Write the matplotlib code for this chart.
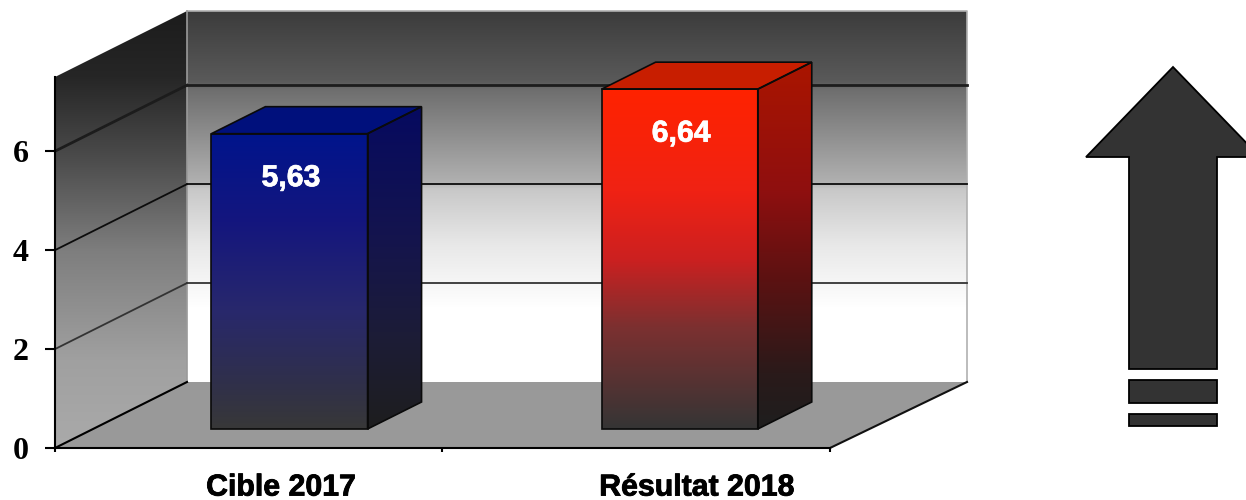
import matplotlib
matplotlib.use('Agg')
import matplotlib.pyplot as plt
import matplotlib.patheffects as pe
from matplotlib.colors import LinearSegmentedColormap
from matplotlib.patches import Polygon
import numpy as np

##### Dados #####
categories = ['Cible 2017', 'Résultat 2018']
bar_heights = [5.97, 6.87]
value_labels = ['5,63', '6,64']
y_ticks = [0, 2, 4, 6]
y_top = 7.5

##### Geometria (pixels da imagem) #####
W, H = 1246, 500
X0, X1 = 55, 830
Y0, Y_TOP = 448, 77
CAT_PX = (X1 - X0) / 2
UNIT_PX = (Y0 - Y_TOP) / y_top
DX = 132 / CAT_PX      # profundidade em x
DY = 66 / UNIT_PX      # profundidade em y
RIGHT_BACK = 2 + 5 / CAT_PX

bar_centers = [0.507, 1.514]
bar_width = 0.403
bar_d0, bar_d1 = 0.288, 0.697
label_x = [0.583, 1.656]

wall_stops = [(0, '#3c3c3c'), (0.19, '#5a5a5a'), (0.21, '#6e6e6e'), (0.46, '#b0b0b0'),
              (0.48, '#c8c8c8'), (0.63, '#e8e8e8'), (0.735, '#f6f6f6'), (0.80, '#ffffff'), (1, '#ffffff')]
side_stops = [(0, '#1c1c1c'), (0.15, '#262626'), (0.33, '#4a4a4a'), (0.55, '#7e7e7e'), (0.8, '#a0a0a0'), (1, '#aaaaaa')]
blue_front = [(0, '#00148c'), (0.3, '#14167e'), (0.6, '#28286c'), (0.85, '#30304a'), (1, '#383838')]
blue_side = [(0, '#060a60'), (0.4, '#14144e'), (0.7, '#1c1c38'), (1, '#1e1e1e')]
blue_top = '#00107c'
red_front = [(0, '#ff2300'), (0.3, '#f02214'), (0.5, '#cc2020'), (0.7, '#7c3030'), (1, '#353535')]
red_side = [(0, '#aa1500'), (0.35, '#8f0f0f'), (0.6, '#5a1212'), (0.85, '#2a1a1a'), (1, '#1e1e1e')]
red_top = '#c81e00'


def project(x, y, d):
  return (x + d * DX, y + d * DY)


def gradPoly(ax, points, stops, zorder):
  points = np.array(points)
  cmap = LinearSegmentedColormap.from_list('g', stops)
  grad = np.linspace(0, 1, 256).reshape(-1, 1)
  extent = (points[:, 0].min(), points[:, 0].max(), points[:, 1].min(), points[:, 1].max())
  im = ax.imshow(grad, cmap=cmap, extent=extent, aspect='auto', origin='upper',
                 vmin=0, vmax=1, zorder=zorder, interpolation='bilinear')
  clip = Polygon(points, closed=True, transform=ax.transData)
  im.set_clip_path(clip)
  im.set_clip_box(fig.bbox)


def flatPoly(ax, points, color, edge='none', lw=0, zorder=1):
  ax.add_patch(Polygon(points, closed=True, facecolor=color, edgecolor=edge, linewidth=lw,
                       zorder=zorder, clip_on=False, joinstyle='miter'))


##### Figura #####
fig = plt.figure(figsize=(W / 100, H / 100), dpi=100)
ax = fig.add_axes([X0 / W, (H - Y0) / H, (X1 - X0) / W, (Y0 - Y_TOP) / H])
ax.patch.set_visible(False)

# paredes e chao
back_l = project(0, 0, 1)
back_r = (RIGHT_BACK + DX, DY)
back_tl = project(0, y_top, 1)
back_tr = (RIGHT_BACK + DX, y_top + DY)
gradPoly(ax, [back_l, back_r, back_tr, back_tl], wall_stops, 0.1)
gradPoly(ax, [(0, 0), back_l, back_tl, (0, y_top)], side_stops, 0.1)
flatPoly(ax, [(0, 0), (2, 0), back_r, back_l], '#999999', zorder=0.2)
ax.plot([back_tl[0], back_tr[0], back_r[0]], [back_tl[1], back_tr[1], back_r[1]],
        color='#b0b0b0', lw=1.2, zorder=0.25, clip_on=False)
ax.plot([back_tl[0], back_l[0]], [back_tl[1], back_l[1]], color='#9a9a9a', lw=1.2, zorder=0.25, clip_on=False)

# linhas de grade
grid_styles = {0: ('black', 1.5), 2: ('#333333', 1.3), 4: ('#0c0c0c', 1.3), 6: ('#1c1c1c', 2.0)}
for tick in y_ticks:
  color, lw = grid_styles[tick]
  p = project(0, tick, 1)
  ax.plot([0, p[0]], [tick, p[1]], color=color, lw=lw, zorder=0.3, clip_on=False)
  if tick > 0:
    ax.plot([p[0], RIGHT_BACK + DX], [p[1], p[1]], color=color, lw=lw, zorder=0.3, clip_on=False)
ax.plot([2, back_r[0]], [0, back_r[1]], color='#111111', lw=1.5, zorder=0.3, clip_on=False)

# barras
bar_styles = [(blue_front, blue_side, blue_top), (red_front, red_side, red_top)]
for center, height, text, style in zip(bar_centers, bar_heights, value_labels, bar_styles):
  left = center - bar_width / 2
  right = center + bar_width / 2
  front = [project(left, 0, bar_d0), project(right, 0, bar_d0), project(right, height, bar_d0), project(left, height, bar_d0)]
  side = [project(right, 0, bar_d0), project(right, 0, bar_d1), project(right, height, bar_d1), project(right, height, bar_d0)]
  top = [project(left, height, bar_d0), project(right, height, bar_d0), project(right, height, bar_d1), project(left, height, bar_d1)]
  gradPoly(ax, side, style[1], 1)
  gradPoly(ax, front, style[0], 1)
  flatPoly(ax, top, style[2], zorder=1)
  for face in (side, front, top):
    flatPoly(ax, face, 'none', edge='#0a0a0a', lw=1.2, zorder=1.1)
  tx, ty = project(center + 0.004, height - 0.9, bar_d0)
  ax.text(tx, ty, text, color='white', fontsize=21.8, fontweight='bold', family='Liberation Sans',
          ha='center', va='center', zorder=1.5,
          path_effects=[pe.withStroke(linewidth=0.5, foreground='white')])

# eixos
ax.set_xlim(0, 2)
ax.set_ylim(0, y_top)
for side_name in ('top', 'right'):
  ax.spines[side_name].set_visible(False)
for side_name in ('left', 'bottom'):
  ax.spines[side_name].set_linewidth(1.5)
ax.set_yticks(y_ticks)
ax.set_yticklabels([str(t) for t in y_ticks], family='Liberation Serif', fontweight='bold', fontsize=23)
ax.tick_params(axis='y', length=7, width=1.5, pad=12)
ax.set_xticks([0, 1, 2])
ax.set_xticklabels([])
ax.tick_params(axis='x', length=3, width=1.5)
for x, name in zip(label_x, categories):
  ax.text(x, -0.8, name, fontsize=21.8, fontweight='bold', family='Liberation Sans', color='black',
          ha='center', va='center', clip_on=False,
          path_effects=[pe.withStroke(linewidth=0.6, foreground='black')])

##### Seta #####
arrow_ax = fig.add_axes([0, 0, 1, 1])
arrow_ax.set_xlim(0, W)
arrow_ax.set_ylim(H, 0)
arrow_ax.axis('off')
arrow = [(1173, 67), (1260, 157), (1217, 157), (1217, 369), (1129, 369), (1129, 157), (1086, 157)]
flatPoly(arrow_ax, arrow, '#333333', edge='black', lw=1.3)
flatPoly(arrow_ax, [(1129, 380), (1217, 380), (1217, 403), (1129, 403)], '#333333', edge='black', lw=1.3)
flatPoly(arrow_ax, [(1129, 414), (1217, 414), (1217, 426), (1129, 426)], '#333333', edge='black', lw=1.3)

fig.savefig('out.png', dpi=100)
